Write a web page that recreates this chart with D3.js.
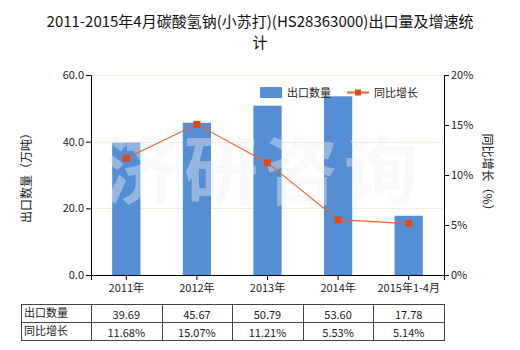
<!DOCTYPE html>
<html>
<head>
<meta charset="utf-8">
<script src="https://cdn.jsdelivr.net/npm/d3@7/dist/d3.min.js"></script>
<style>
  html, body { margin: 0; padding: 0; background: #fff; }
  svg { display: block; font-family: "Noto Sans CJK SC", "Noto Sans", sans-serif; }
</style>
</head>
<body>
<svg id="chart" width="520" height="350"></svg>
<script>
// Export volume of sodium bicarbonate (10k tonnes) and year-on-year growth (%)
const categories = ["2011年", "2012年", "2013年", "2014年", "2015年1-4月"];
const volume = [39.69, 45.67, 50.79, 53.60, 17.78];
const growth = [11.68, 15.07, 11.21, 5.53, 5.14];
const leftTicks = [0, 20, 40, 60];
const rightTicks = [0, 5, 10, 15, 20];
const seriesNames = ["出口数量", "同比增长"];

const svg = d3.select("#chart");
const plot = { left: 91, right: 444, top: 75, bottom: 275 };

const x = d3.scaleBand().domain(categories).range([plot.left, plot.right]);
const yL = d3.scaleLinear().domain([0, 60]).range([plot.bottom, plot.top]);
const yR = d3.scaleLinear().domain([0, 20]).range([plot.bottom, plot.top]);

const barColor = "#558ed5";
const lineColor = "#e8622a";
const markColor = "#dd4a1c";
const textColor = "#222";

// Title
const title = svg.append("text").attr("text-anchor", "middle").attr("fill", "#111")
  .style("font-size", "15px");
title.append("tspan").attr("x", 260).attr("y", 27).text("2011-2015年4月碳酸氢钠(小苏打)(HS28363000)出口量及增速统");
title.append("tspan").attr("x", 260).attr("y", 48).text("计");

// Gridlines
svg.append("g").selectAll("line").data(leftTicks.filter(d => d > 0)).join("line")
  .attr("x1", plot.left).attr("x2", plot.right)
  .attr("y1", d => Math.round(yL(d)) + 0.5).attr("y2", d => Math.round(yL(d)) + 0.5)
  .attr("stroke", "#efefdc").attr("stroke-width", 1);

// Bars
const bw = x.bandwidth() * 0.4;
svg.append("g").selectAll("rect").data(volume).join("rect")
  .attr("x", (d, i) => x(categories[i]) + x.bandwidth() / 2 - bw / 2)
  .attr("width", bw)
  .attr("y", d => yL(d))
  .attr("height", d => plot.bottom - yL(d))
  .attr("fill", barColor);

// Watermark
svg.append("text").attr("x", 264).attr("y", 198).attr("text-anchor", "middle")
  .style("font-size", "74px").style("font-weight", "bold").attr("letter-spacing", "6px")
  .attr("fill", "#f0f0f0").attr("fill-opacity", 0.4)
  .text("济研咨询");

// Growth line
const cx = (i) => x(categories[i]) + x.bandwidth() / 2;
const line = d3.line().x((d, i) => cx(i)).y(d => yR(d));
svg.append("path").datum(growth).attr("d", line)
  .attr("fill", "none").attr("stroke", lineColor).attr("stroke-width", 1.2);
svg.append("g").selectAll("rect").data(growth).join("rect")
  .attr("x", (d, i) => cx(i) - 3.5).attr("y", d => yR(d) - 3.5)
  .attr("width", 7).attr("height", 7).attr("fill", markColor);

// Axes
const axisStyle = g => {
  g.selectAll("path, line").attr("stroke", "#000");
  g.selectAll("text").attr("fill", textColor).style("font-size", "11px")
    .style("font-family", "'Noto Sans CJK SC', 'Noto Sans', sans-serif");
};
svg.append("g").attr("transform", `translate(${plot.left},0)`)
  .call(d3.axisLeft(yL).tickValues(leftTicks).tickFormat(d3.format(".1f")).tickSizeOuter(0).tickSize(5).tickPadding(2))
  .call(axisStyle);
svg.append("g").attr("transform", `translate(${plot.right},0)`)
  .call(d3.axisRight(yR).tickValues(rightTicks).tickFormat(d => d + "%").tickSizeOuter(0).tickSize(5).tickPadding(2))
  .call(axisStyle);
svg.append("g").attr("transform", `translate(0,${plot.bottom})`)
  .call(d3.axisBottom(x).tickSizeOuter(0).tickSize(5).tickPadding(4))
  .call(axisStyle);

// Axis titles
svg.append("text").attr("transform", "translate(31,175) rotate(-90)").attr("text-anchor", "middle")
  .attr("fill", textColor).style("font-size", "12px").text("出口数量（万吨）");
svg.append("text").attr("transform", "translate(483,175) rotate(90)").attr("text-anchor", "middle")
  .attr("fill", textColor).style("font-size", "12px").text("同比增长（%）");

// Legend
const lg = svg.append("g");
lg.append("rect").attr("x", 260).attr("y", 87).attr("width", 22).attr("height", 11).attr("fill", barColor);
lg.append("text").attr("x", 287).attr("y", 96.5).attr("fill", textColor).style("font-size", "11px").text(seriesNames[0]);
lg.append("line").attr("x1", 347).attr("x2", 369).attr("y1", 92.5).attr("y2", 92.5)
  .attr("stroke", lineColor).attr("stroke-width", 2);
lg.append("rect").attr("x", 355).attr("y", 89.5).attr("width", 6).attr("height", 6).attr("fill", markColor);
lg.append("text").attr("x", 374).attr("y", 96.5).attr("fill", textColor).style("font-size", "11px").text(seriesNames[1]);

// Data table
const tTop = 304, rowH = 18, tLeft = 21;
const rows = [
  { name: seriesNames[0], vals: volume.map(d => d.toFixed(2)) },
  { name: seriesNames[1], vals: growth.map(d => d.toFixed(2) + "%") }
];
const tg = svg.append("g");
tg.append("rect").attr("x", tLeft + 0.5).attr("y", tTop + 0.5)
  .attr("width", plot.right - tLeft).attr("height", rowH * 2)
  .attr("fill", "none").attr("stroke", "#444");
tg.append("line").attr("x1", tLeft).attr("x2", plot.right + 0.5)
  .attr("y1", tTop + rowH + 0.5).attr("y2", tTop + rowH + 0.5).attr("stroke", "#444");
tg.selectAll("line.col").data(categories).join("line").attr("class", "col")
  .attr("x1", d => Math.round(x(d)) + 0.5).attr("x2", d => Math.round(x(d)) + 0.5)
  .attr("y1", tTop).attr("y2", tTop + rowH * 2).attr("stroke", "#444");
rows.forEach((r, ri) => {
  tg.append("text").attr("x", tLeft + 3).attr("y", tTop + ri * rowH + 13)
    .attr("fill", textColor).style("font-size", "11px").text(r.name);
  r.vals.forEach((v, i) => {
    tg.append("text").attr("x", cx(i)).attr("y", tTop + ri * rowH + 14.5)
      .attr("text-anchor", "middle").attr("fill", textColor).style("font-size", "11px").text(v);
  });
});
</script>
</body>
</html>
